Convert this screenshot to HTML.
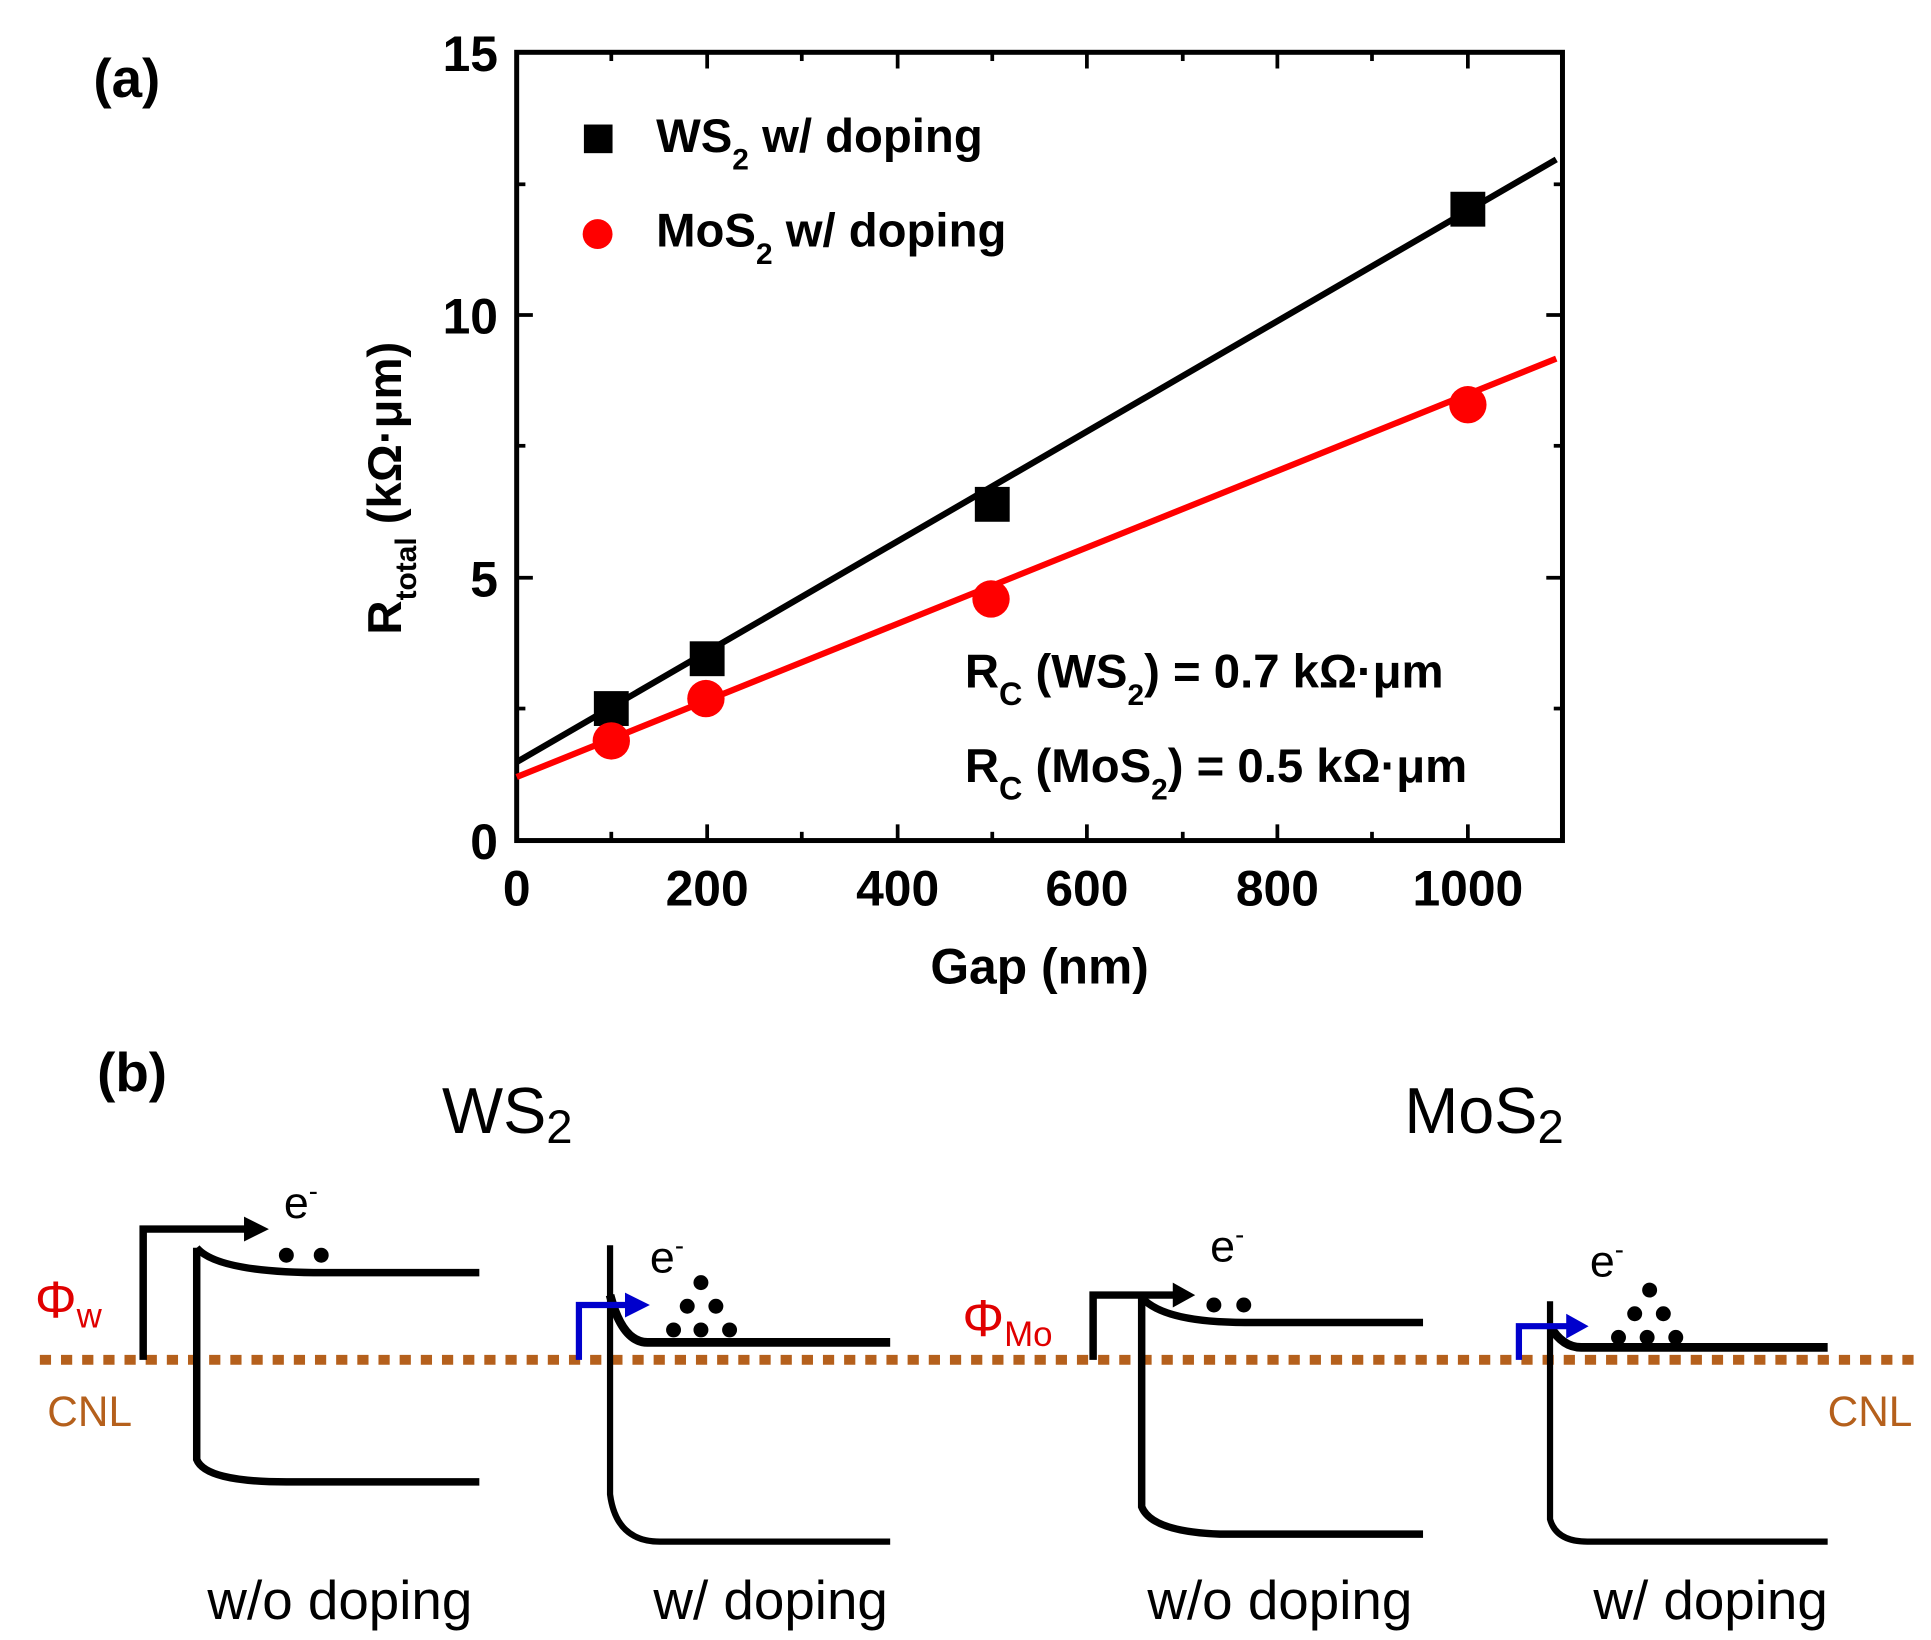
<!DOCTYPE html>
<html><head><meta charset="utf-8"><style>
html,body{margin:0;padding:0;background:#fff;}
svg{display:block;}
text{font-family:"Liberation Sans",sans-serif;}
.b{font-weight:bold;}
</style></head><body>
<svg width="1931" height="1640" viewBox="0 0 1551 1317" preserveAspectRatio="none" xmlns="http://www.w3.org/2000/svg">
<rect width="1551" height="1317" fill="#fff"/>
<text x="75" y="78" font-size="44" class="b">(a)</text>
<rect x="415" y="42" width="840" height="633" fill="none" stroke="#000" stroke-width="4"/>
<g stroke="#000" stroke-width="3">
<line x1="415" y1="464" x2="428" y2="464"/><line x1="415" y1="253" x2="428" y2="253"/>
<line x1="1255" y1="464" x2="1242" y2="464"/><line x1="1255" y1="253" x2="1242" y2="253"/>
<line x1="415" y1="569" x2="422" y2="569"/><line x1="415" y1="358" x2="422" y2="358"/><line x1="415" y1="148" x2="422" y2="148"/>
<line x1="1255" y1="569" x2="1248" y2="569"/><line x1="1255" y1="358" x2="1248" y2="358"/><line x1="1255" y1="148" x2="1248" y2="148"/>
<line x1="568" y1="675" x2="568" y2="662"/><line x1="721" y1="675" x2="721" y2="662"/><line x1="873" y1="675" x2="873" y2="662"/><line x1="1026" y1="675" x2="1026" y2="662"/><line x1="1179" y1="675" x2="1179" y2="662"/>
<line x1="568" y1="42" x2="568" y2="55"/><line x1="721" y1="42" x2="721" y2="55"/><line x1="873" y1="42" x2="873" y2="55"/><line x1="1026" y1="42" x2="1026" y2="55"/><line x1="1179" y1="42" x2="1179" y2="55"/>
<line x1="491" y1="675" x2="491" y2="668"/><line x1="644" y1="675" x2="644" y2="668"/><line x1="797" y1="675" x2="797" y2="668"/><line x1="950" y1="675" x2="950" y2="668"/><line x1="1102" y1="675" x2="1102" y2="668"/>
<line x1="491" y1="42" x2="491" y2="49"/><line x1="644" y1="42" x2="644" y2="49"/><line x1="797" y1="42" x2="797" y2="49"/><line x1="950" y1="42" x2="950" y2="49"/><line x1="1102" y1="42" x2="1102" y2="49"/>
</g>
<g font-size="40" class="b" text-anchor="end">
<text x="400" y="690">0</text><text x="400" y="479">5</text><text x="400" y="268">10</text><text x="400" y="57">15</text>
</g>
<g font-size="40" class="b" text-anchor="middle">
<text x="415" y="727">0</text><text x="568" y="727">200</text><text x="721" y="727">400</text><text x="873" y="727">600</text><text x="1026" y="727">800</text><text x="1179" y="727">1000</text>
<text x="835" y="790">Gap (nm)</text>
</g>
<text transform="translate(322,392) rotate(-90)" font-size="38" class="b" text-anchor="middle">R<tspan font-size="24" dy="12">total</tspan><tspan dy="-12"> (kΩ·μm)</tspan></text>
<line x1="415" y1="612" x2="1250" y2="128" stroke="#000" stroke-width="5"/>
<line x1="415" y1="624" x2="1250" y2="288" stroke="#ff0000" stroke-width="5"/>
<g fill="#000">
<rect x="477" y="555" width="28" height="28"/><rect x="554" y="515" width="28" height="28"/><rect x="783" y="391" width="28" height="28"/><rect x="1165" y="154" width="28" height="28"/>
<rect x="469" y="100" width="23" height="23"/>
</g>
<g fill="#ff0000">
<circle cx="491" cy="595" r="15"/><circle cx="567" cy="561" r="15"/><circle cx="796" cy="481" r="15"/><circle cx="1179" cy="325" r="15"/>
<circle cx="480" cy="188" r="12"/>
</g>
<g font-size="38" class="b">
<text x="527" y="122">WS<tspan font-size="24" dy="14">2</tspan><tspan dy="-14"> w/ doping</tspan></text>
<text x="527" y="198">MoS<tspan font-size="24" dy="14">2</tspan><tspan dy="-14"> w/ doping</tspan></text>
<text x="775" y="552">R<tspan font-size="26" dy="14">C</tspan><tspan dy="-14"> (WS</tspan><tspan font-size="24" dy="14">2</tspan><tspan dy="-14">) = 0.7 kΩ·μm</tspan></text>
<text x="775" y="628">R<tspan font-size="26" dy="14">C</tspan><tspan dy="-14"> (MoS</tspan><tspan font-size="24" dy="14">2</tspan><tspan dy="-14">) = 0.5 kΩ·μm</tspan></text>
</g>
<text x="78" y="876" font-size="44" class="b">(b)</text>
<text x="355" y="910" font-size="52">WS<tspan font-size="38" dy="8">2</tspan></text>
<text x="1128" y="910" font-size="52">MoS<tspan font-size="38" dy="8">2</tspan></text>
<line x1="32" y1="1092" x2="1545" y2="1092" stroke="#b5601c" stroke-width="8" stroke-dasharray="9 8" stroke-linecap="butt"/>
<text x="28" y="1058" font-size="42" fill="#e00000">Φ<tspan font-size="28" dy="8">w</tspan></text>
<text x="773" y="1073" font-size="42" fill="#e00000">Φ<tspan font-size="28" dy="8">Mo</tspan></text>
<text x="38" y="1145" font-size="34" fill="#b5601c">CNL</text>
<text x="1468" y="1145" font-size="34" fill="#b5601c">CNL</text>
<g fill="none" stroke="#000" stroke-width="6">
<path d="M115 1092 V987 H200"/>
<path d="M158 1002 V1172 Q165 1190 230 1190 H385"/>
<path d="M158 1002 Q175 1022 260 1022 H385"/>
<path d="M490 1000 V1200 Q495 1238 530 1238 H715" stroke-width="5"/>
<path d="M490 1040 Q500 1078 520 1078 H715" stroke-width="7"/>
<path d="M878 1092 V1040 H945"/>
<path d="M917 1042 V1210 Q925 1230 980 1232 H1143"/>
<path d="M917 1042 Q935 1062 1000 1062 H1143"/>
<path d="M1245 1045 V1220 Q1250 1238 1275 1238 H1468" stroke-width="5"/>
<path d="M1245 1065 Q1255 1082 1270 1082 H1468" stroke-width="7"/>
</g>
<path d="M465 1092 V1048 H505" fill="none" stroke="#0000cc" stroke-width="5"/>
<path d="M502 1038 L522 1048 L502 1058 Z" fill="#0000cc"/>
<path d="M1220 1092 V1065 H1260" fill="none" stroke="#0000cc" stroke-width="5"/>
<path d="M1258 1055 L1276 1065 L1258 1075 Z" fill="#0000cc"/>
<path d="M196 977 L216 987 L196 997 Z"/>
<path d="M942 1030 L960 1040 L942 1050 Z"/>
<g fill="#000">
<circle cx="230" cy="1008" r="6"/><circle cx="258" cy="1008" r="6"/>
<circle cx="563" cy="1030" r="6"/><circle cx="552" cy="1049" r="6"/><circle cx="575" cy="1049" r="6"/><circle cx="541" cy="1068" r="6"/><circle cx="563" cy="1068" r="6"/><circle cx="586" cy="1068" r="6"/>
<circle cx="975" cy="1048" r="6"/><circle cx="999" cy="1048" r="6"/>
<circle cx="1325" cy="1036" r="6"/><circle cx="1313" cy="1055" r="6"/><circle cx="1336" cy="1055" r="6"/><circle cx="1300" cy="1074" r="6"/><circle cx="1323" cy="1074" r="6"/><circle cx="1346" cy="1074" r="6"/>
</g>
<g font-size="36">
<text x="228" y="978">e<tspan font-size="22" dy="-14">-</tspan></text>
<text x="522" y="1022">e<tspan font-size="22" dy="-14">-</tspan></text>
<text x="972" y="1013">e<tspan font-size="22" dy="-14">-</tspan></text>
<text x="1277" y="1025">e<tspan font-size="22" dy="-14">-</tspan></text>
</g>
<g font-size="44" text-anchor="middle">
<text x="273" y="1300">w/o doping</text><text x="619" y="1300">w/ doping</text>
<text x="1028" y="1300">w/o doping</text><text x="1374" y="1300">w/ doping</text>
</g>
</svg>
</body></html>
